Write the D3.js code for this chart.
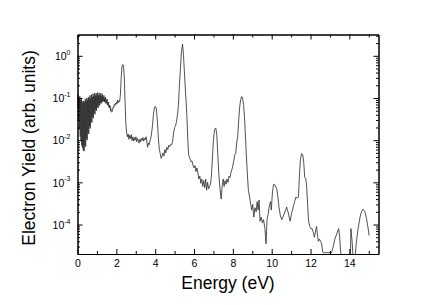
<!DOCTYPE html>
<html>
<head>
<meta charset="utf-8">
<script src="https://cdn.jsdelivr.net/npm/d3@7"></script>
<style>
  html, body { margin: 0; padding: 0; background: #fff; }
  svg { display: block; }
  text { font-family: "Liberation Sans", Arial, sans-serif; fill: #000; }
</style>
</head>
<body>
<svg id="chart" width="440" height="305"></svg>
<script>
// ---- data ----
const energy = [
  0.00,0.02,0.04,0.06,0.08,0.10,0.12,0.14,0.16,0.18,0.20,0.22,0.24,0.26,0.28,0.30,0.32,0.34,0.36,0.38,
  0.40,0.42,0.44,0.46,0.48,0.50,0.52,0.54,0.56,0.58,0.60,0.62,0.64,0.66,0.68,0.70,0.72,0.74,0.76,0.78,
  0.80,0.82,0.84,0.86,0.88,0.90,0.92,0.94,0.96,0.98,1.00,1.02,1.04,1.06,1.08,1.10,1.12,1.14,1.16,1.18,
  1.20,1.22,1.24,1.26,1.28,1.30,1.32,1.34,1.36,1.38,1.40,1.42,1.44,1.46,1.48,1.50,1.52,1.54,1.56,1.58,
  1.60,1.62,1.64,1.66,1.68,1.70,1.72,1.74,1.76,1.78,1.80,1.83,1.86,1.89,1.92,1.95,1.98,2.01,2.04,2.07,
  2.10,2.13,2.17,2.21,2.25,2.29,2.33,2.37,2.41,2.45,2.49,2.53,2.57,2.61,2.65,2.69,2.73,2.77,2.81,2.85,
  2.89,2.93,2.97,3.01,3.05,3.09,3.13,3.17,3.21,3.25,3.29,3.33,3.37,3.41,3.45,3.49,3.53,3.57,3.61,3.65,
  3.69,3.73,3.77,3.81,3.86,3.91,3.96,4.01,4.06,4.11,4.16,4.21,4.26,4.31,4.35,4.40,4.45,4.50,4.55,4.60,
  4.65,4.70,4.75,4.80,4.85,4.90,4.95,5.00,5.05,5.10,5.15,5.20,5.25,5.30,5.35,5.41,5.46,5.52,5.58,5.63,
  5.68,5.72,5.78,5.84,5.90,5.95,6.00,6.05,6.10,6.15,6.20,6.25,6.30,6.35,6.40,6.45,6.50,6.55,6.60,6.65,
  6.70,6.75,6.80,6.85,6.90,6.95,7.00,7.06,7.12,7.17,7.22,7.28,7.34,7.40,7.45,7.50,7.55,7.60,7.65,7.70,
  7.75,7.80,7.85,7.90,7.95,8.00,8.05,8.10,8.15,8.20,8.25,8.30,8.35,8.40,8.45,8.50,8.55,8.60,8.65,8.70,
  8.75,8.80,8.86,8.92,8.97,9.02,9.08,9.14,9.20,9.25,9.30,9.35,9.40,9.46,9.52,9.58,9.65,9.71,9.76,9.82,
  9.88,9.94,9.98,10.04,10.10,10.18,10.26,10.32,10.38,10.45,10.52,10.60,10.68,10.77,10.84,10.90,10.95,11.02,11.10,11.18,
  11.25,11.32,11.38,11.43,11.48,11.54,11.60,11.65,11.70,11.76,11.80,11.85,11.90,11.96,12.02,12.08,12.14,12.20,12.26,12.31,
  12.35,12.40,12.46,12.52,12.57,12.63,12.66,13.08,13.17,13.25,13.35,13.45,13.50,13.56,13.62,14.04,14.08,14.14,14.21,14.28,
  14.35,14.45,14.55,14.62,14.70,14.80,14.88,14.95,15.02
];
const electronYield = [
  0.12,0.06,0.12,0.03,0.10,0.018,0.11,0.012,0.09,0.010,0.095,0.0075,0.085,0.0065,0.075,0.0057,0.085,0.0055,0.08,0.0075,
  0.095,0.007,0.085,0.011,0.10,0.010,0.09,0.015,0.105,0.014,0.095,0.021,0.115,0.019,0.10,0.028,0.12,0.026,0.105,0.036,
  0.125,0.033,0.11,0.044,0.13,0.041,0.115,0.052,0.13,0.050,0.115,0.060,0.135,0.058,0.115,0.068,0.13,0.066,0.115,0.076,
  0.13,0.074,0.11,0.083,0.125,0.080,0.105,0.087,0.115,0.080,0.10,0.082,0.105,0.074,0.09,0.076,0.095,0.068,0.08,0.067,
  0.08,0.060,0.068,0.058,0.065,0.050,0.056,0.047,0.046,0.047,0.052,0.060,0.058,0.070,0.066,0.075,0.070,0.080,0.074,0.090,
  0.078,0.085,0.082,0.12,0.30,0.55,0.62,0.58,0.30,0.08,0.025,0.015,0.012,0.014,0.0105,0.013,0.011,0.0135,0.0098,0.012,
  0.0095,0.0115,0.010,0.012,0.0092,0.011,0.0098,0.0085,0.0105,0.0092,0.011,0.0098,0.0115,0.0095,0.011,0.0102,0.012,0.0095,0.0068,0.0085,
  0.0078,0.0095,0.011,0.014,0.022,0.040,0.058,0.063,0.055,0.030,0.012,0.0062,0.0048,0.0037,0.0042,0.0050,0.0042,0.0060,0.0050,0.0068,
  0.0060,0.0075,0.0070,0.0080,0.0078,0.0095,0.015,0.020,0.022,0.028,0.040,0.070,0.20,0.50,1.2,1.9,1.0,0.30,0.10,0.04,
  0.010,0.0045,0.0038,0.0031,0.0032,0.0025,0.0022,0.0025,0.0018,0.0022,0.0017,0.0012,0.0014,0.00095,0.0012,0.0008,0.0011,0.00075,0.0012,0.00065,
  0.0010,0.0007,0.0008,0.0009,0.0015,0.004,0.010,0.018,0.0195,0.014,0.005,0.0015,0.0007,0.0004,0.0008,0.0012,0.0008,0.0011,0.0009,0.0012,
  0.0010,0.0014,0.0013,0.0017,0.0020,0.0025,0.0033,0.0045,0.0050,0.0090,0.012,0.030,0.060,0.090,0.108,0.10,0.07,0.035,0.012,0.004,
  0.0015,0.00065,0.00045,0.0003,0.00022,0.0003,0.00015,0.00025,0.0002,0.00035,0.00022,0.00038,0.00012,0.00015,0.00011,0.00013,0.00008,0.000035,0.00013,0.00018,
  0.00028,0.00035,0.00022,0.0006,0.0009,0.00085,0.0007,0.00045,0.00025,0.00016,0.00013,0.00016,0.0002,0.00026,0.0002,0.00015,0.00012,0.00018,0.00025,0.00035,
  0.00045,0.00042,0.00045,0.0015,0.0035,0.0048,0.0045,0.003,0.0013,0.0012,0.0008,0.0003,0.00012,0.00009,0.00008,0.00008,0.000065,0.00005,0.00007,0.00009,
  0.00006,0.00004,0.000045,0.00004,0.000035,0.000022,0.0000215,0.0000215,0.00003,0.000045,0.00006,0.00008,0.00005,0.00002,0.000008,0.000008,0.00008,0.00004,0.000012,0.000012,
  0.000035,0.00008,0.00015,0.0002,0.00023,0.0002,0.00014,0.00009,0.000055
];
const xMajorTicks = [0, 2, 4, 6, 8, 10, 12, 14];
const xMinorTicks = [1, 3, 5, 7, 9, 11, 13, 15];
const yExponents = [0, -1, -2, -3, -4];

// ---- layout ----
const svg = d3.select("#chart");
const L = 77.5, R = 378.5, T = 34.5, B = 254;
const x = d3.scaleLinear().domain([0, 15.5]).range([L, R]);
const y = d3.scaleLog().domain([2e-5, 3.2]).range([B, T]);

const yMajor = yExponents.map(e => Math.pow(10, e));
const yMinor = [];
for (let e = -5; e <= 0; e++) {
  for (let m = 2; m <= 9; m++) {
    const v = m * Math.pow(10, e);
    if (v >= 2e-5 && v <= 3.2) yMinor.push(v);
  }
}

svg.append("defs").append("clipPath").attr("id", "clip")
  .append("rect").attr("x", L).attr("y", T).attr("width", R - L).attr("height", B - T);

const data = energy.map((e, i) => [e, electronYield[i]]);
const line = d3.line().x(d => x(d[0])).y(d => y(d[1]));
svg.append("path")
  .datum(data)
  .attr("clip-path", "url(#clip)")
  .attr("fill", "none")
  .attr("stroke", "#333")
  .attr("stroke-width", 0.85)
  .attr("stroke-linejoin", "round")
  .attr("d", line);

function styleAxis(g) {
  g.selectAll("path.domain").attr("stroke", "#000").attr("stroke-width", 1);
  g.selectAll(".tick line").attr("stroke", "#000").attr("stroke-width", 1);
}

// bottom axis
svg.append("g").attr("transform", `translate(0,${B})`)
  .call(d3.axisBottom(x).tickValues(xMajorTicks).tickSize(-5).tickSizeOuter(0).tickPadding(6).tickFormat(d3.format("d")))
  .call(styleAxis)
  .call(g => g.selectAll(".tick text").attr("font-size", "10.5px").attr("font-family", "Liberation Sans, Arial, sans-serif"));
svg.append("g").attr("transform", `translate(0,${B})`)
  .call(d3.axisBottom(x).tickValues(xMinorTicks).tickSize(-3).tickSizeOuter(0).tickFormat(""))
  .call(styleAxis);
// top axis
svg.append("g").attr("transform", `translate(0,${T})`)
  .call(d3.axisTop(x).tickValues(xMajorTicks).tickSize(-5).tickSizeOuter(0).tickFormat(""))
  .call(styleAxis);
svg.append("g").attr("transform", `translate(0,${T})`)
  .call(d3.axisTop(x).tickValues(xMinorTicks).tickSize(-3).tickSizeOuter(0).tickFormat(""))
  .call(styleAxis);
// left axis
svg.append("g").attr("transform", `translate(${L},0)`)
  .call(d3.axisLeft(y).tickValues(yMajor).tickSize(-5).tickSizeOuter(0).tickPadding(7).tickFormat(""))
  .call(styleAxis)
  .call(g => g.selectAll(".tick text").each(function(d) {
    const t = d3.select(this).attr("font-size", "10.5px").attr("font-family", "Liberation Sans, Arial, sans-serif").attr("dy", "0.36em");
    t.append("tspan").text("10");
    t.append("tspan").attr("font-size", "7px").attr("dy", "-0.75em").text(String(Math.round(Math.log10(d))));
  }));
svg.append("g").attr("transform", `translate(${L},0)`)
  .call(d3.axisLeft(y).tickValues(yMinor).tickSize(-2.5).tickSizeOuter(0).tickFormat(""))
  .call(styleAxis);
// right axis
svg.append("g").attr("transform", `translate(${R},0)`)
  .call(d3.axisRight(y).tickValues(yMajor).tickSize(-5).tickSizeOuter(0).tickFormat(""))
  .call(styleAxis);
svg.append("g").attr("transform", `translate(${R},0)`)
  .call(d3.axisRight(y).tickValues(yMinor).tickSize(-2.5).tickSizeOuter(0).tickFormat(""))
  .call(styleAxis);

// titles
svg.append("text")
  .attr("x", (L + R) / 2).attr("y", 289)
  .attr("text-anchor", "middle").attr("font-size", "17.5px")
  .text("Energy (eV)");
svg.append("text")
  .attr("transform", `translate(35,148) rotate(-90)`)
  .attr("text-anchor", "middle").attr("font-size", "17.5px")
  .text("Electron Yield (arb. units)");
</script>
</body>
</html>
